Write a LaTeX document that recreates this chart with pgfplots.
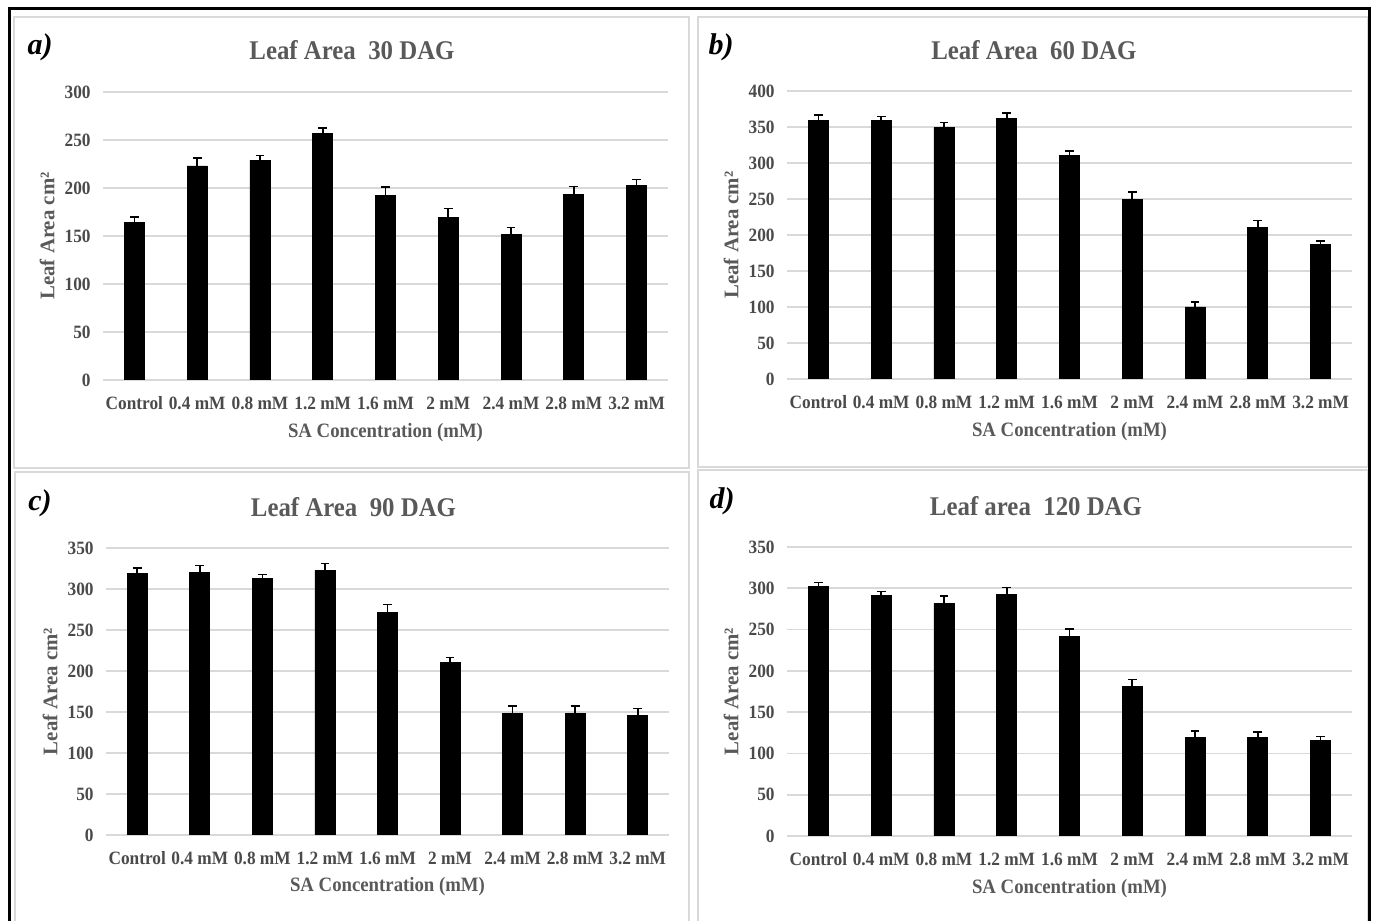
\documentclass[border=0pt]{standalone}
\usepackage{pgfplots}
\pgfplotsset{compat=1.18}
\usepackage{fontspec}
\setmainfont{Liberation Serif}[FakeStretch=0.92]
\newfontfamily\plainserif{Liberation Serif}
\definecolor{txt}{HTML}{595959}
\definecolor{tick}{HTML}{4A4A4A}
\definecolor{gridc}{HTML}{D9D9D9}
\definecolor{boxc}{HTML}{D9D9D9}
\pgfplotsset{
 panel/.style={
  scale only axis, ybar, bar width=10pt, ymin=0, ytick distance=50,
  xmin=-0.5, xmax=8.5, xtick={0,...,8},
  xticklabels={Control,0.4 mM,0.8 mM,1.2 mM,1.6 mM,2 mM,2.4 mM,2.8 mM,3.2 mM},
  axis line style={draw=none}, major tick length=0pt,
  ymajorgrids, grid style={gridc, line width=0.8pt},
  /pgf/number format/assume math mode=true,
  tick label style={font=\bfseries\fontsize{9.4}{10}\selectfont, text=tick, inner sep=0pt},
  xticklabel style={anchor=center, yshift=-11.5pt},
  yticklabel style={anchor=east, xshift=-6pt},
  xlabel={SA Concentration (mM)},
  ylabel={\plainserif Leaf Area cm²},
  xlabel style={at={(axis description cs:0.5,-0.181)}, anchor=center, font=\bfseries\fontsize{10.2}{11}\selectfont, text=txt, inner sep=0pt},
  ylabel style={at={(axis description cs:-0.099,0.5)}, anchor=center, font=\bfseries\fontsize{10.4}{11}\selectfont, text=txt, inner sep=0pt},
  every axis title shift=0pt,
  title style={anchor=center, font=\bfseries\fontsize{13.5}{15}\selectfont, text=txt, inner sep=0pt},
 },
 barsty/.style={fill=black, draw=black,
  error bars/.cd, y dir=plus, y explicit,
  error bar style={line width=0.8pt,black},
  error mark options={rotate=90, mark size=2.2pt, line width=0.8pt, black}},
}
\begin{document}
\begin{tikzpicture}
\path[use as bounding box] (0,0) rectangle (686.5pt,460.5pt);
% borders
\draw[boxc, line width=1pt] (7pt,452pt) rectangle (344.5pt,226.5pt);
\draw[boxc, line width=1pt] (349pt,452pt) rectangle (684pt,227pt);
\draw[boxc, line width=1pt] (7.5pt,-5pt) -- (7.5pt,224.5pt) -- (344.5pt,224.5pt) -- (344.5pt,-5pt);
\draw[boxc, line width=1pt] (349pt,-5pt) -- (349pt,225.5pt) -- (684pt,225.5pt) -- (684pt,-5pt);
\draw[black, line width=1.5pt] (4.5pt,-5pt) -- (4.5pt,456pt) -- (684.5pt,456pt) -- (684.5pt,-5pt);

% panel a
\begin{axis}[panel, at={(51.5pt,270.5pt)}, anchor=south west, width=282.5pt, height=144pt,
  ymax=300, title={Leaf Area\ \ 30 DAG}, title style={at={(axis description cs:0.4407,1.1458)}}]
\addplot[barsty] coordinates {
 (0,163.7) +- (0,6.3) (1,223) +- (0,8) (2,229) +- (0,5) (3,256.7) +- (0,6)
 (4,191.8) +- (0,9) (5,169.6) +- (0,9) (6,151.6) +- (0,7.3) (7,192.9) +- (0,8.6) (8,203) +- (0,6)};
\end{axis}

% panel b
\begin{axis}[panel, at={(393.5pt,271pt)}, anchor=south west, width=282.5pt, height=144pt,
  ymax=400, title={Leaf Area\ \ 60 DAG}, title style={at={(axis description cs:0.437,1.142)}}]
\addplot[barsty] coordinates {
 (0,358.8) +- (0,8) (1,359.7) +- (0,5) (2,349.5) +- (0,7) (3,361.6) +- (0,7.5)
 (4,311) +- (0,5.7) (5,249.5) +- (0,10.5) (6,100) +- (0,7) (7,210.6) +- (0,9.3) (8,187) +- (0,5)};
\end{axis}

% panel c
\begin{axis}[panel, at={(53pt,43pt)}, anchor=south west, width=281.5pt, height=143.5pt,
  ymax=350, title={Leaf Area\ \ 90 DAG}, title style={at={(axis description cs:0.4396,1.143)}}]
\addplot[barsty] coordinates {
 (0,319.5) +- (0,6) (1,320.3) +- (0,8.6) (2,312.6) +- (0,5.3) (3,322.7) +- (0,8.6)
 (4,271.9) +- (0,9.3) (5,210.8) +- (0,5.7) (6,148.6) +- (0,8.9) (7,148.6) +- (0,8.9) (8,146.1) +- (0,8.1)};
\end{axis}

% panel d
\begin{axis}[panel, at={(393.5pt,42.5pt)}, anchor=south west, width=282.5pt, height=144.5pt,
  ymax=350, title={Leaf area\ \ 120 DAG}, title style={at={(axis description cs:0.4407,1.142)}}]
\addplot[barsty] coordinates {
 (0,302) +- (0,5.2) (1,291.4) +- (0,4.5) (2,281.7) +- (0,9.3) (3,292.6) +- (0,8.1)
 (4,241.7) +- (0,8.9) (5,181) +- (0,8.6) (6,119.2) +- (0,8.1) (7,119.2) +- (0,6.9) (8,116) +- (0,4.5)};
\end{axis}

% panel letters
\node[font=\plainserif\bfseries\itshape\fontsize{15}{16}\selectfont] at (20pt,437pt) {a)};
\node[font=\plainserif\bfseries\itshape\fontsize{15}{16}\selectfont] at (360.5pt,437pt) {b)};
\node[font=\plainserif\bfseries\itshape\fontsize{15}{16}\selectfont] at (20pt,209pt) {c)};
\node[font=\plainserif\bfseries\itshape\fontsize{15}{16}\selectfont] at (361pt,210pt) {d)};
\end{tikzpicture}
\end{document}
